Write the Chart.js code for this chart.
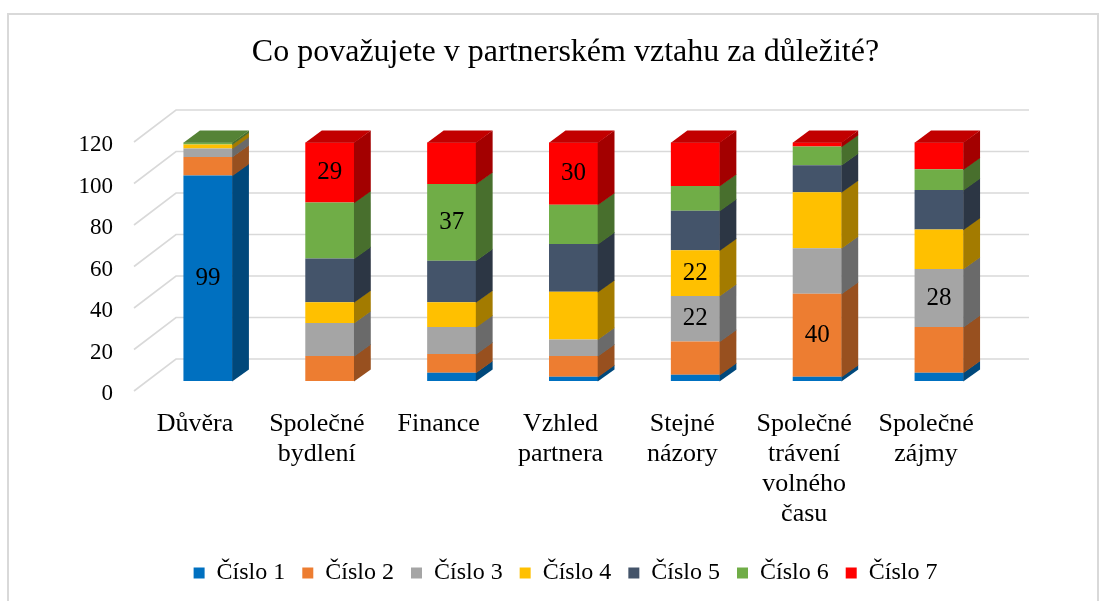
<!DOCTYPE html>
<html><head><meta charset="utf-8">
<script src="https://cdn.jsdelivr.net/npm/chart.js@4.4.1/dist/chart.umd.min.js"></script>
<style>
html,body{margin:0;padding:0;background:#fff;}
#wrap{position:relative;width:1111px;height:601px;overflow:hidden;}
#frame{position:absolute;left:7px;top:13px;width:1092px;height:640px;border:2px solid #d9d9d9;box-sizing:border-box;}
canvas{position:absolute;left:0;top:0;}
</style></head><body>
<div id="wrap"><div id="frame"></div><canvas id="c" width="1111" height="601"></canvas></div>
<script>
const titleText = 'Co považujete v partnerském vztahu za důležité?';
const categories = [['Důvěra'], ['Společné','bydlení'], ['Finance'], ['Vzhled','partnera'], ['Stejné','názory'], ['Společné','trávení','volného','času'], ['Společné','zájmy']];
const seriesNames = ['Číslo 1','Číslo 2','Číslo 3','Číslo 4','Číslo 5','Číslo 6','Číslo 7'];
const cislo1 = [99, 0, 4, 2, 3, 2, 4];
const cislo2 = [9, 12, 9, 10, 16, 40, 22];
const cislo3 = [4, 16, 13, 8, 22, 22, 28];
const cislo4 = [2, 10, 12, 23, 22, 27, 19];
const cislo5 = [0, 21, 20, 23, 19, 13, 19];
const cislo6 = [1, 27, 37, 19, 12, 9, 10];
const cislo7 = [0, 29, 20, 30, 21, 2, 13];
const yTickValues = [0, 20, 40, 60, 80, 100, 120];
const seriesColors = ['#0070C0','#ED7D31','#A5A5A5','#FFC000','#44546A','#70AD47','#FF0000'];
const seriesValues = [cislo1, cislo2, cislo3, cislo4, cislo5, cislo6, cislo7];

const FONT = "'Liberation Serif','Times New Roman',serif";

function shade(hex, f) {
  const n = parseInt(hex.slice(1), 16);
  const r = Math.round(((n >> 16) & 255) * f), g = Math.round(((n >> 8) & 255) * f), b = Math.round((n & 255) * f);
  return 'rgb(' + r + ',' + g + ',' + b + ')';
}

const threeD = {
  id: 'threeD',
  beforeDatasetsDraw(chart) {
    const ctx = chart.ctx, ys = chart.scales.y, area = chart.chartArea;
    const fx = area.left - 13, bx = fx + 42, rx = area.right - 13 + 42;
    ctx.save();
    ctx.strokeStyle = '#d9d9d9';
    ctx.lineWidth = 1.6;
    ys.ticks.forEach(t => {
      const p = ys.getPixelForValue(t.value);
      ctx.beginPath();
      ctx.moveTo(fx, p + 10);
      ctx.lineTo(bx, p - 22);
      ctx.lineTo(rx, p - 22);
      ctx.stroke();
    });
    ctx.restore();
  },
  afterDatasetsDraw(chart) {
    const ctx = chart.ctx, dx = 16.5, dy = 12;
    const dsets = chart.data.datasets;
    const n = chart.data.labels.length;
    ctx.save();
    for (let j = 0; j < n; j++) {
      let topIdx = -1;
      dsets.forEach((d, i) => { if (d.data[j] > 0) topIdx = i; });
      dsets.forEach((d, i) => {
        if (!(d.data[j] > 0)) return;
        const el = chart.getDatasetMeta(i).data[j];
        const l = el.x - el.width / 2, r = el.x + el.width / 2;
        const t = Math.min(el.y, el.base), b = Math.max(el.y, el.base);
        ctx.fillStyle = shade(d.backgroundColor, 0.64);
        ctx.beginPath();
        ctx.moveTo(r - 0.3, b + 0.6);
        ctx.lineTo(r - 0.3, t);
        ctx.lineTo(r + dx, t - dy);
        ctx.lineTo(r + dx, b - dy + 0.6);
        ctx.closePath();
        ctx.fill();
        if (i === topIdx) {
          ctx.fillStyle = shade(d.backgroundColor, 0.76);
          ctx.beginPath();
          ctx.moveTo(l, t + 0.3);
          ctx.lineTo(l + dx, t - dy);
          ctx.lineTo(r + dx, t - dy);
          ctx.lineTo(r, t + 0.3);
          ctx.closePath();
          ctx.fill();
        }
      });
      const mx = Math.max(...dsets.map(d => d.data[j]));
      ctx.fillStyle = '#000';
      ctx.font = '25px ' + FONT;
      ctx.textAlign = 'center';
      ctx.textBaseline = 'middle';
      dsets.forEach((d, i) => {
        if (d.data[j] !== mx) return;
        const el = chart.getDatasetMeta(i).data[j];
        ctx.fillText(String(d.data[j]), el.x, (el.y + el.base) / 2);
      });
    }
    ctx.restore();
  }
};

new Chart(document.getElementById('c'), {
  type: 'bar',
  data: {
    labels: categories,
    datasets: seriesNames.map((name, i) => ({
      label: name,
      data: seriesValues[i],
      backgroundColor: seriesColors[i],
      borderWidth: 0,
      barPercentage: 0.402,
      categoryPercentage: 1.0
    }))
  },
  options: {
    responsive: false,
    animation: false,
    layout: { padding: { left: 20, right: 0, top: 0, bottom: 6 } },
    plugins: {
      title: { display: true, text: titleText, color: '#000', font: { family: FONT, size: 32, weight: 'normal' }, padding: { top: 33, bottom: 60.6 } },
      legend: { position: 'bottom', labels: { font: { family: FONT, size: 24 }, color: '#000', boxWidth: 11, boxHeight: 11, padding: 17 } },
      tooltip: { enabled: false }
    },
    scales: {
      x: {
        stacked: true,
        grid: { display: false, drawTicks: false },
        border: { display: false },
        ticks: { font: { family: FONT, size: 26, lineHeight: 1.16 }, color: '#000', padding: 28, labelOffset: -13, maxRotation: 0, autoSkip: false },
        afterFit(s) { s.height = 163; }
      },
      y: {
        stacked: true,
        min: yTickValues[0],
        max: yTickValues[yTickValues.length - 1],
        ticks: { stepSize: yTickValues[1] - yTickValues[0], font: { family: FONT, size: 23 }, color: '#000', padding: 34, labelOffset: 13 },
        grid: { display: false, drawTicks: false },
        border: { display: false },
        afterFit(s) { s.width = 127; }
      },
      y2: {
        position: 'right',
        display: true,
        grid: { display: false, drawTicks: false },
        border: { display: false },
        ticks: { display: false },
        afterFit(s) { s.width = 111; }
      }
    }
  },
  plugins: [threeD]
});
</script>
</body></html>
